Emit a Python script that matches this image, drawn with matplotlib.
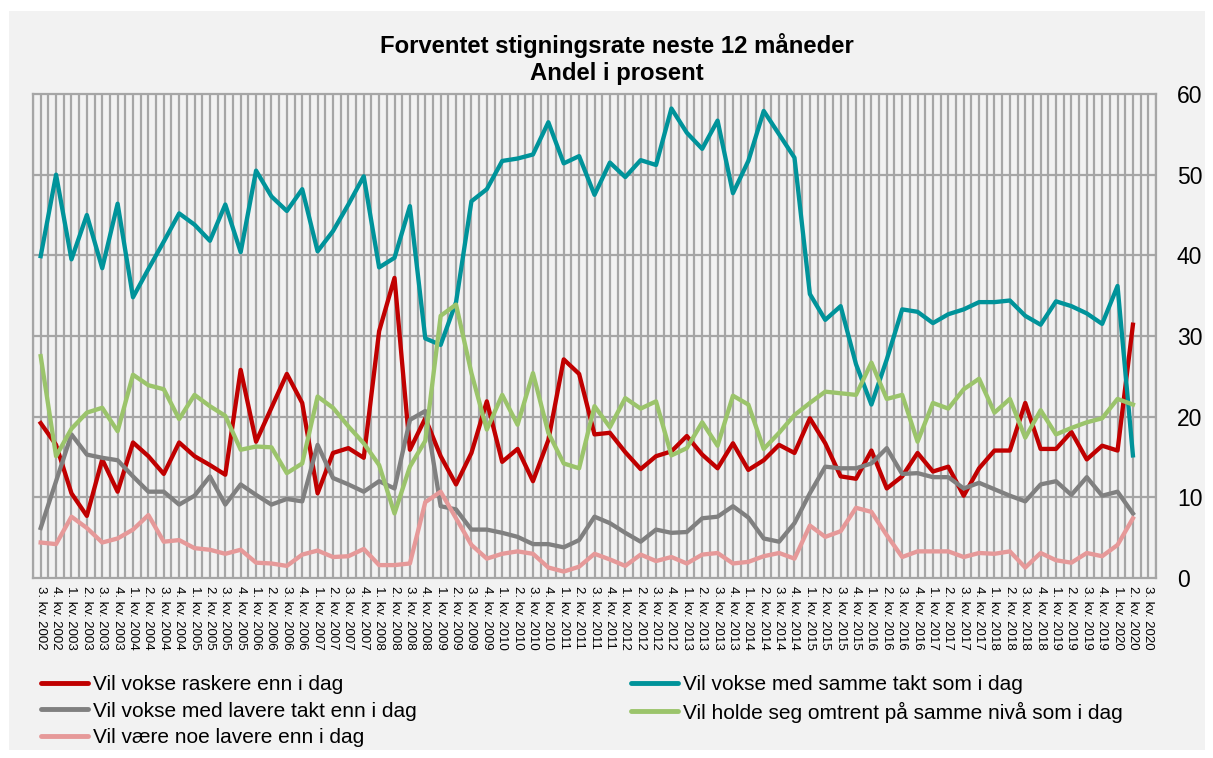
import numpy as np
import matplotlib.pyplot as plt
from matplotlib.patches import Rectangle
from matplotlib.lines import Line2D

plt.rcParams['font.family'] = ['Liberation Sans', 'DejaVu Sans']

# kvartaler 3. kv. 2002 - 3. kv. 2020
quarters = []
for yr in range(2002, 2021):
    for q in range(1, 5):
        if (yr == 2002 and q < 3) or (yr == 2020 and q > 3):
            continue
        quarters.append(f"{q}. kv. {yr}")

raskere = [19.2, 16.5, 10.5, 7.7, 14.7, 10.7, 16.8, 15.1, 12.9, 16.8, 15.1, 14.0, 12.8, 25.8, 16.9, 21.1,
           25.3, 21.7, 10.5, 15.5, 16.1, 14.9, 30.6, 37.2, 15.9, 19.8, 15.1, 11.6, 15.5, 21.9, 14.4, 16.0,
           12.0, 17.1, 27.1, 25.3, 17.8, 18.0, 15.6, 13.5, 15.1, 15.7, 17.6, 15.3, 13.6, 16.7, 13.4, 14.6,
           16.5, 15.5, 19.8, 16.7, 12.6, 12.3, 15.8, 11.1, 12.6, 15.5, 13.2, 13.8, 10.2, 13.6, 15.8, 15.8,
           21.7, 16.0, 16.0, 18.1, 14.7, 16.4, 15.8, 31.4]
samme = [39.9, 50.0, 39.5, 45.0, 38.4, 46.4, 34.8, 38.3, 41.7, 45.2, 43.8, 41.8, 46.3, 40.4, 50.5, 47.3,
         45.5, 48.2, 40.5, 43.0, 46.3, 49.8, 38.5, 39.7, 46.1, 29.7, 28.9, 34.2, 46.7, 48.2, 51.7, 52.0,
         52.5, 56.5, 51.4, 52.3, 47.5, 51.5, 49.7, 51.8, 51.2, 58.2, 55.2, 53.2, 56.7, 47.7, 51.7, 57.9,
         55.0, 52.1, 35.2, 32.0, 33.7, 26.5, 21.5, 27.1, 33.3, 33.0, 31.6, 32.7, 33.3, 34.2, 34.2, 34.4,
         32.5, 31.4, 34.3, 33.7, 32.8, 31.5, 36.2, 15.2]
lavere_takt = [6.2, 12.0, 17.8, 15.3, 14.9, 14.6, 12.6, 10.7, 10.7, 9.1, 10.2, 12.6, 9.1, 11.6, 10.3, 9.1,
               9.8, 9.5, 16.5, 12.4, 11.6, 10.7, 12.0, 11.1, 19.6, 20.7, 8.9, 8.5, 6.0, 6.0, 5.6, 5.1,
               4.2, 4.2, 3.8, 4.7, 7.6, 6.8, 5.6, 4.5, 6.0, 5.6, 5.7, 7.4, 7.6, 8.9, 7.5, 4.9,
               4.5, 6.8, 10.5, 13.8, 13.6, 13.6, 14.2, 16.1, 12.9, 13.0, 12.5, 12.5, 11.1, 11.8, 11.0, 10.2,
               9.5, 11.6, 12.0, 10.3, 12.5, 10.2, 10.7, 8.0]
holde_seg = [27.5, 15.1, 18.5, 20.5, 21.1, 18.2, 25.2, 23.9, 23.4, 19.7, 22.7, 21.3, 20.1, 15.9, 16.3, 16.2,
             13.0, 14.2, 22.5, 21.1, 18.8, 16.7, 14.0, 8.0, 13.8, 17.0, 32.5, 33.9, 25.4, 18.4, 22.7, 19.0,
             25.4, 18.0, 14.2, 13.6, 21.3, 18.7, 22.3, 21.0, 21.9, 15.2, 16.1, 19.3, 16.4, 22.6, 21.5, 16.0,
             18.0, 20.2, 21.7, 23.1, 22.9, 22.7, 26.7, 22.2, 22.7, 16.9, 21.7, 21.0, 23.4, 24.7, 20.5, 22.2,
             17.4, 20.8, 17.8, 18.6, 19.3, 19.8, 22.2, 21.5]
noe_lavere = [4.4, 4.2, 7.6, 6.2, 4.4, 4.9, 6.0, 7.8, 4.5, 4.7, 3.7, 3.5, 3.0, 3.5, 1.9, 1.8,
              1.5, 2.9, 3.4, 2.6, 2.7, 3.6, 1.6, 1.6, 1.8, 9.4, 10.7, 7.4, 4.1, 2.4, 3.0, 3.3,
              3.0, 1.3, 0.8, 1.4, 3.0, 2.3, 1.5, 2.9, 2.1, 2.6, 1.8, 2.9, 3.1, 1.8, 2.0, 2.7,
              3.1, 2.4, 6.5, 5.1, 5.8, 8.7, 8.2, 5.3, 2.6, 3.3, 3.3, 3.3, 2.6, 3.1, 3.0, 3.3,
              1.3, 3.1, 2.2, 1.9, 3.1, 2.7, 4.1, 7.4]

series = [
    ("Vil vokse raskere enn i dag", raskere, "#C00000"),
    ("Vil vokse med samme takt som i dag", samme, "#00939A"),
    ("Vil vokse med lavere takt enn i dag", lavere_takt, "#808080"),
    ("Vil holde seg omtrent på samme nivå som i dag", holde_seg, "#9BC46B"),
    ("Vil være noe lavere enn i dag", noe_lavere, "#E69999"),
]

bg = "#F2F2F2"
grid_c = "#A6A6A6"

fig = plt.figure(figsize=(12.13, 7.58), dpi=100, facecolor="white")
fig.patches.append(Rectangle((9 / 1213, 1 - 750 / 758), 1196 / 1213, 739 / 758,
                             transform=fig.transFigure, facecolor=bg, edgecolor="none", zorder=-10))

ax = fig.add_axes([33 / 1213, 1 - 578 / 758, 1123 / 1213, 484 / 758])
ax.set_facecolor(bg)

n = len(quarters)
ax.set_xlim(-0.5, n - 0.5)
ax.set_ylim(0, 60)

# rutenett: vertikale linjer hver halve kategori
for xv in np.arange(-0.5, n - 0.5 + 0.01, 0.5):
    ax.axvline(xv, color=grid_c, lw=1.6, zorder=1)
for yv in range(10, 60, 10):
    ax.axhline(yv, color=grid_c, lw=1.6, zorder=1)

x = np.arange(len(raskere))
for name, vals, col in series:
    ax.plot(x, vals, color=col, lw=3.1, zorder=3)

for sp in ax.spines.values():
    sp.set_color(grid_c)
    sp.set_linewidth(1.6)

ax.set_xticks(np.arange(n))
ax.set_xticklabels(quarters, rotation=-90, fontsize=9.5, va="top", ha="center")
ax.tick_params(axis="x", length=0, pad=6)
ax.yaxis.tick_right()
ax.set_yticks(range(0, 61, 10))
ax.tick_params(axis="y", length=0, pad=15, labelsize=16.5)

fig.text(617 / 1213, 1 - 59 / 758, "Forventet stigningsrate neste 12 måneder\nAndel i prosent",
         ha="center", va="center", fontsize=17.2, fontweight="bold", linespacing=1.2)

def handle(col):
    return Line2D([], [], color=col, lw=3.5, solid_capstyle="round")

left = [series[0], series[2], series[4]]
right = [series[1], series[3]]
kw = dict(frameon=False, fontsize=15, borderpad=0, borderaxespad=0,
          handlelength=2.25, handletextpad=0.24, labelspacing=0.37, loc="upper left")
fig.legend([handle(c) for _, _, c in left], [s for s, _, _ in left],
           bbox_to_anchor=(41 / 1213, 1 - 675 / 758), **kw)
fig.legend([handle(c) for _, _, c in right], [s for s, _, _ in right],
           bbox_to_anchor=(631 / 1213, 1 - 675 / 758), **kw)

fig.savefig("out.png", dpi=100, facecolor="white")
